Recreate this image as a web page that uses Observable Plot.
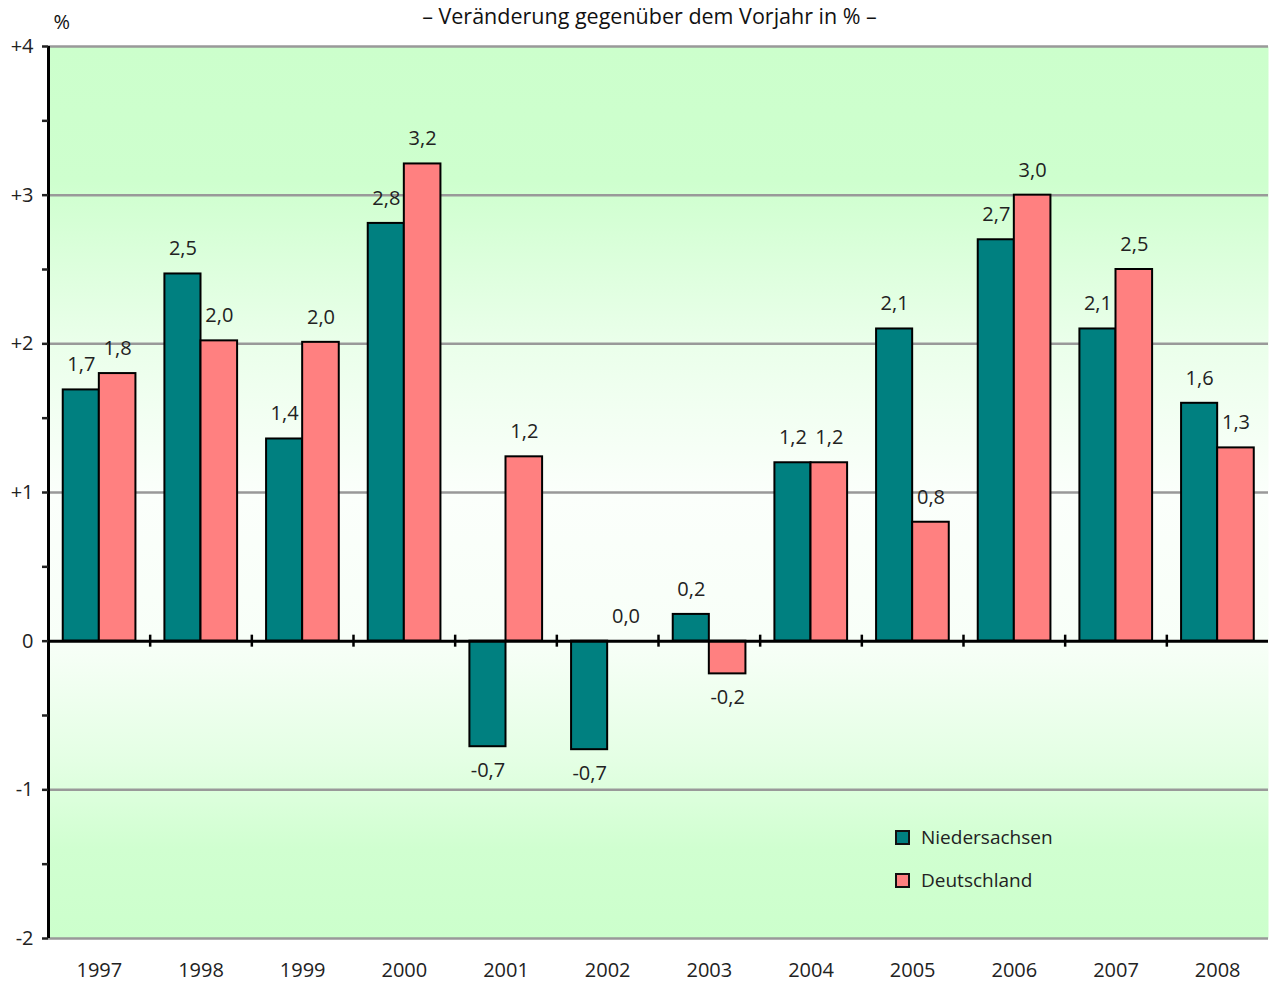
<!DOCTYPE html>
<html><head><meta charset="utf-8">
<script src="https://cdn.jsdelivr.net/npm/d3@7"></script>
<script src="https://cdn.jsdelivr.net/npm/@observablehq/plot@0.6"></script>
<style>
body{margin:0;background:#fff;font-family:"Open Sans",sans-serif;color:#222}
#wrap{position:relative;width:1269px;height:983px}
.leg{position:absolute;left:895px;display:flex;align-items:center;font-size:19px;height:20px}
.sw{width:11px;height:11px;border:2.5px solid #111;margin-right:11px}
</style></head><body><div id="wrap"></div>
<script>
const years = ["1997","1998","1999","2000","2001","2002","2003","2004","2005","2006","2007","2008"];
const niedersachsen = [1.69, 2.47, 1.36, 2.81, -0.71, -0.73, 0.18, 1.2, 2.1, 2.7, 2.1, 1.6];
const deutschland = [1.8, 2.02, 2.01, 3.21, 1.24, 0.0, -0.22, 1.2, 0.8, 3.0, 2.5, 1.3];
const seriesNames = ["Niedersachsen", "Deutschland"];
const seriesColors = ["#008080", "#ff8080"];
const yTicks = [-2, -1, 0, 1, 2, 3, 4];
const yMinor = [-1.5, -0.5, 0.5, 1.5, 2.5, 3.5];
const title = "– Veränderung gegenüber dem Vorjahr in % –";

const rows = [];
years.forEach((y, i) => {
  rows.push({i, year: y, series: seriesNames[0], value: niedersachsen[i], x1: i + 0.145, x2: i + 0.5});
  rows.push({i, year: y, series: seriesNames[1], value: deutschland[i], x1: i + 0.5, x2: i + 0.86});
});
const fmt = v => v.toFixed(1).replace(".", ",");

const gradient = () => {
  const defs = d3.create("svg:defs");
  const g = defs.append("linearGradient").attr("id", "bg").attr("x1", 0).attr("y1", 0).attr("x2", 0).attr("y2", 1);
  [[0, "#ccffcc"], [0.15, "#ceffce"], [0.33, "#eaffea"], [0.5, "#fbfffb"], [0.667, "#f8fff8"], [0.8, "#e4ffe4"], [0.9, "#d0ffd0"], [1, "#ccffcc"]]
    .forEach(([o, c]) => g.append("stop").attr("offset", o).attr("stop-color", c));
  return defs.node();
};

const chart = Plot.plot({
  width: 1269, height: 983,
  marginTop: 46, marginBottom: 45, marginLeft: 48, marginRight: 1,
  style: {fontFamily: "Open Sans, sans-serif", fontSize: "20px", color: "#222", background: "#fff"},
  x: {type: "linear", domain: [0, 12], axis: null},
  y: {domain: [-2, 4], axis: null},
  color: {domain: seriesNames, range: seriesColors},
  marks: [
    gradient,
    Plot.frame({fill: "url(#bg)", stroke: null}),
    Plot.ruleY(yTicks.filter(d => d !== 0), {stroke: "#999", strokeWidth: 2.5}),
    Plot.rectY(rows, {x1: "x1", x2: "x2", y1: 0, y2: "value", fill: "series", stroke: "#000", strokeWidth: 2}),
    Plot.ruleY([0], {stroke: "#000", strokeWidth: 3}),
    Plot.ruleX(d3.range(1, 12), {y1: 0, y2: 0, insetTop: -6, insetBottom: -6, stroke: "#000", strokeWidth: 2.5}),
    Plot.ruleX([0], {stroke: "#000", strokeWidth: 3}),
    Plot.axisY({ticks: yTicks, tickFormat: d => d > 0 ? "+" + d : String(d), tickSize: 6, tickPadding: 9, fontSize: 20, label: null, strokeWidth: 2.5}),
    Plot.axisY({ticks: yMinor, tickFormat: () => "", tickSize: 6, label: null, strokeWidth: 2.5}),
    Plot.axisX({ticks: d3.range(12).map(i => i + 0.5), tickFormat: d => years[Math.floor(d)], tickSize: 0, tickPadding: 24, fontSize: 20, label: null}),
    Plot.text(rows.filter(d => d.value >= 0), {x: d => (d.x1 + d.x2) / 2, y: "value", text: d => fmt(d.value), dy: -25, fontSize: 20, fill: "#222"}),
    Plot.text(rows.filter(d => d.value < 0), {x: d => (d.x1 + d.x2) / 2, y: "value", text: d => fmt(d.value), dy: 24, fontSize: 20, fill: "#222"}),
    Plot.text([title], {frameAnchor: "top", dy: -38, dx: -9, fontSize: 21.5, fill: "#111"}),
    Plot.text(["%"], {frameAnchor: "top-left", dx: 5, dy: -32, fontSize: 20, fill: "#111"})
  ]
});
const wrap = document.getElementById("wrap");
wrap.appendChild(chart);
seriesNames.forEach((n, k) => {
  const d = document.createElement("div");
  d.className = "leg";
  d.style.top = (827 + k * 43) + "px";
  d.innerHTML = `<span class="sw" style="background:${seriesColors[k]}"></span><span>${n}</span>`;
  wrap.appendChild(d);
});
</script></body></html>
